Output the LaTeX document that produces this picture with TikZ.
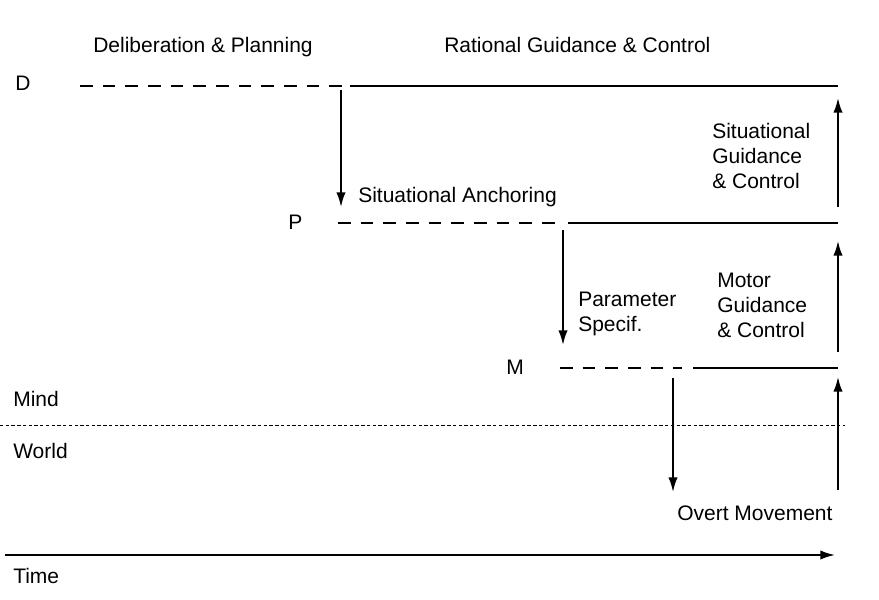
\documentclass[tikz,border=0pt]{standalone}
\usepackage{fontspec}
\setmainfont{Liberation Sans}
\usetikzlibrary{arrows.meta}

\begin{document}
\begin{tikzpicture}[x=0.75pt,y=-0.75pt,
		lbl/.style={anchor=base west,inner sep=0pt,align=left,font=\fontsize{15.75}{18.75}\selectfont},
		level/.style={line width=1.4pt},
		plan/.style={line width=1.4pt,dash pattern=on 9.5pt off 7.5pt},
		flow/.style={line width=1.4pt,-{Latex[length=11pt,width=7pt]}},
		border/.style={line width=0.7pt,dash pattern=on 2.5pt off 1.8pt}]
			\useasboundingbox (0,0) rectangle (879,600);

			\node[lbl] (delib)  at (93,52)   {Deliberation \& Planning};
			\node[lbl] (ratio)  at (444,52)  {Rational Guidance \& Control};
			\node[lbl] (D)      at (15,90)   {D};
			\node[lbl] (P)      at (288,229) {P};
			\node[lbl] (M)      at (506,374) {M};
			\node[lbl] (mind)   at (13,406)  {Mind};
			\node[lbl] (world)  at (13,458)  {World};
			\node[lbl] (time)   at (13,583)  {Time};
			\node[lbl] (anchor) at (358,202) {Situational Anchoring};
			\node[lbl] (param)  at (578,331) {Parameter\\Specif.};
			\node[lbl] (sitgc)  at (712,188) {Situational\\Guidance\\\& Control};
			\node[lbl] (motgc)  at (717,337) {Motor\\Guidance\\\& Control};
			\node[lbl] (overt)  at (677,520) {Overt Movement};

			\coordinate (d0) at (80,86);   \coordinate (d1) at (345,86);
			\coordinate (d2) at (350,86);  \coordinate (d3) at (838,86);
			\coordinate (p0) at (338,223); \coordinate (p1) at (560,223);
			\coordinate (p2) at (568,223); \coordinate (p3) at (838,223);
			\coordinate (m0) at (560,368); \coordinate (m1) at (682,368);
			\coordinate (m2) at (693,368); \coordinate (m3) at (838,368);
			\coordinate (b0) at (0,425);   \coordinate (b1) at (845,425);
			\coordinate (t0) at (5,555);   \coordinate (t1) at (835,555);

			% levels
			\draw[plan]  (d0) -- (d1);
			\draw[level] (d2) -- (d3);
			\draw[plan]  (p0) -- (p1);
			\draw[level] (p2) -- (p3);
			\draw[plan]  (m0) -- (m1);
			\draw[level] (m2) -- (m3);
			\draw[border] (b0) -- (b1);
			\draw[flow]  (t0) -- (t1);

			% downward specification
			\draw[flow] (341,90) -- (341,207);
			\draw[flow] (563,230) -- (563,345);
			\draw[flow] (673,378) -- (673,492);

			% upward guidance
			\draw[flow] (838,207) -- (838,98);
			\draw[flow] (838,352) -- (838,241);
			\draw[flow] (838,490) -- (838,377);
		\end{tikzpicture}
\end{document}
